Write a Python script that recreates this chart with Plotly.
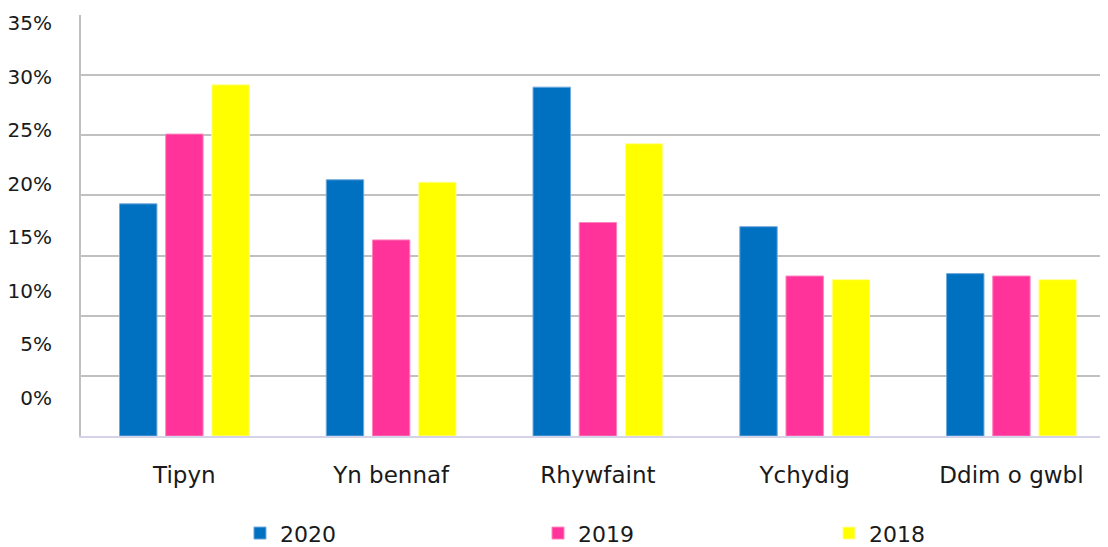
import plotly.graph_objects as go

categories = ["Tipyn", "Yn bennaf", "Rhywfaint", "Ychydig", "Ddim o gwbl"]
values_2020 = [19.3, 21.3, 29.0, 17.4, 13.5]
values_2019 = [25.1, 16.3, 17.75, 13.3, 13.3]
values_2018 = [29.2, 21.1, 24.3, 13.0, 13.0]
series_names = ["2020", "2019", "2018"]
y_tick_vals = [0, 5, 10, 15, 20, 25, 30, 35]
y_tick_text = ["0%", "5%", "10%", "15%", "20%", "25%", "30%", "35%"]

colors = ["#0070c0", "#ff3399", "#ffff00"]
edge_colors = ["#6fa8dc", "#ff85c0", "#ffff99"]
legend_ids = ["legend", "legend2", "legend3"]
legend_x = [0.1548, 0.445, 0.7283]
FONT = "DejaVu Sans"
TEXT = "#1a1a1a"

fig = go.Figure()
for name, vals, c, ec, lg in zip(series_names, [values_2020, values_2019, values_2018],
                                 colors, edge_colors, legend_ids):
    fig.add_trace(go.Bar(x=categories, y=vals, name=name, legend=lg,
                         marker=dict(color=c, line=dict(color=ec, width=1))))

# label-only axis (the reference's percentage labels sit on their own spacing)
fig.add_trace(go.Scatter(x=[categories[0]], y=[None], yaxis="y2", mode="markers",
                         showlegend=False, hoverinfo="skip"))

legend_common = dict(orientation="h", xanchor="left", y=-0.231, yanchor="middle",
                     font=dict(family=FONT, size=22, color=TEXT),
                     bgcolor="rgba(0,0,0,0)")

# page body has an 8px margin, so the figure is sized/offset to land on the same pixels
fig.update_layout(
    width=1100, height=539,
    margin=dict(l=73, r=0, t=7, b=111, autoexpand=False),
    paper_bgcolor="white", plot_bgcolor="white",
    barmode="group", bargap=0.33, bargroupgap=0.19,
    font=dict(family=FONT, size=20, color=TEXT),
    xaxis=dict(range=[-0.5, 4.467], showgrid=False, showline=True,
               linecolor="#d5d3ea", linewidth=2, ticks="",
               tickfont=dict(family=FONT, size=23, color=TEXT), ticklabelstandoff=17),
    yaxis=dict(range=[0, 35], tickvals=y_tick_vals, showticklabels=False,
               showgrid=True, gridcolor="#c0c0c0", gridwidth=1.5,
               zeroline=False, showline=True, linecolor="#c0c0c0", linewidth=2,
               ticks=""),
    yaxis2=dict(overlaying="y", side="left", range=[-3.55, 35.78],
                tickvals=y_tick_vals, ticktext=y_tick_text, showgrid=False,
                zeroline=False, showline=False, ticks="",
                tickfont=dict(family=FONT, size=20, color=TEXT), ticklabelstandoff=28),
    legend=dict(x=legend_x[0], **legend_common),
    legend2=dict(x=legend_x[1], **legend_common),
    legend3=dict(x=legend_x[2], **legend_common),
    showlegend=True,
)

fig.write_html("out.html")
